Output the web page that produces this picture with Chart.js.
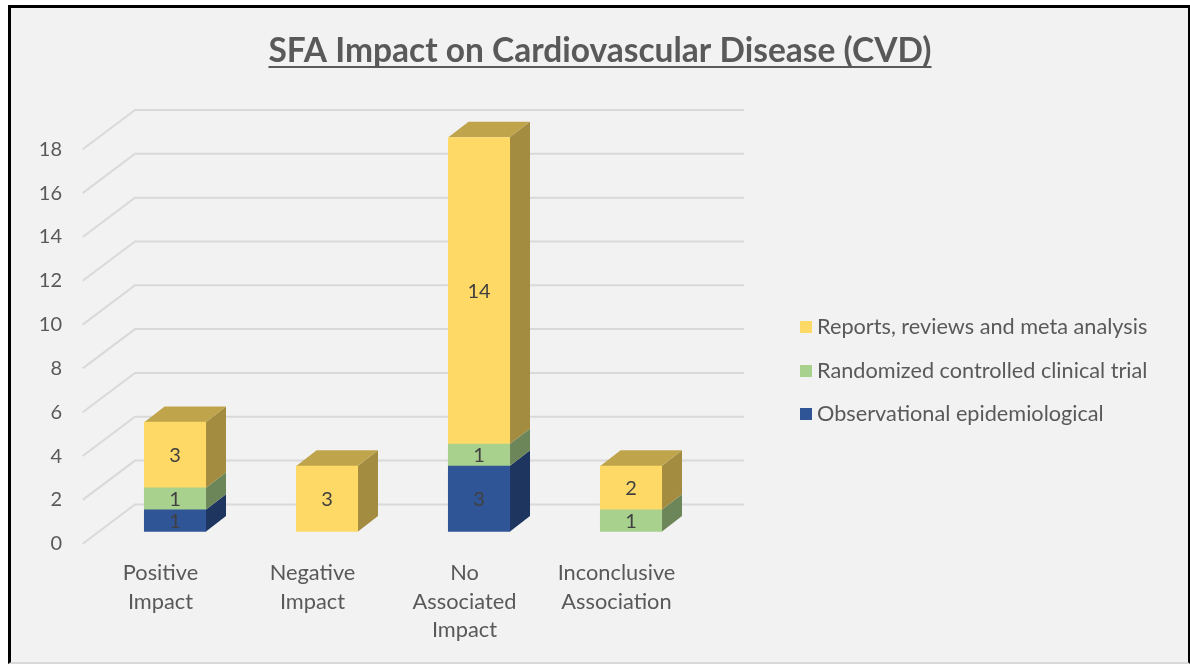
<!DOCTYPE html>
<html>
<head>
<meta charset="utf-8">
<title>SFA Impact on Cardiovascular Disease (CVD)</title>
<script src="https://cdn.jsdelivr.net/npm/chart.js@4/dist/chart.umd.min.js"></script>
<style>
  html, body { margin: 0; padding: 0; background: #fff; overflow: hidden; }
  #frame {
    position: absolute; left: 8px; top: 5px; right: 0; bottom: 0;
    background: #f2f2f2;
    border-left: 3px solid #000; border-top: 3px solid #000; border-right: 2px solid #000;
    border-bottom: 2px solid #d9d9d9;
  }
  #chart { position: absolute; left: 0; top: 0; }
</style>
</head>
<body>
<div id="frame"></div>
<canvas id="chart" width="1190" height="664"></canvas>
<script>
const categories = [["Positive", "Impact"], ["Negative", "Impact"], ["No", "Associated", "Impact"], ["Inconclusive", "Association"]];
const observational = [1, null, 3, null];
const randomized = [1, null, 1, 1];
const reports = [3, 3, 14, 2];
const yMax = 18;
const yStep = 2;

const fontFamily = "Lato, 'Noto Sans', sans-serif";
const textColor = "#595959";

// front, right side and top colours of the 3D columns
const shades = {
  blue: { front: "#2f5597", side: "#1e3560", top: "#24406f" },
  green: { front: "#a9d18e", side: "#6c8659", top: "#7f9e6a" },
  yellow: { front: "#ffd966", side: "#a38b40", top: "#c0a44c" },
};

const depth = { x: 20.3, y: 15.6 };
const wall = { frontX: 82.7, frontDy: 12, backX: 135, backDy: -27.3, right: 744 };
const legendWidth = 300;

const wallAndSides = {
  id: "wallAndSides",
  beforeDatasetsDraw(chart) {
    const { ctx, scales: { y } } = chart;
    ctx.save();
    ctx.strokeStyle = "#d9d9d9";
    ctx.lineWidth = 2;
    y.ticks.forEach((tick) => {
      const py = y.getPixelForValue(tick.value);
      ctx.beginPath();
      ctx.moveTo(wall.frontX, py + wall.frontDy);
      ctx.lineTo(wall.backX, py + wall.backDy);
      ctx.lineTo(wall.right, py + wall.backDy);
      ctx.stroke();
    });

    // sides are drawn from the bars the library has laid out
    chart.data.datasets.forEach((ds, di) => {
      chart.getDatasetMeta(di).data.forEach((bar, i) => {
        if (ds.data[i] == null) return;
        const { x, y: top, base, width } = bar.getProps(["x", "y", "base", "width"], true);
        const r = x + width / 2;
        const l = x - width / 2;
        ctx.fillStyle = ds.shade.side;
        ctx.beginPath();
        ctx.moveTo(r, top);
        ctx.lineTo(r + depth.x, top - depth.y);
        ctx.lineTo(r + depth.x, base - depth.y);
        ctx.lineTo(r, base);
        ctx.closePath();
        ctx.fill();
        const above = chart.data.datasets.slice(di + 1).some((d) => d.data[i] != null);
        if (!above) {
          ctx.fillStyle = ds.shade.top;
          ctx.beginPath();
          ctx.moveTo(l, top);
          ctx.lineTo(l + depth.x, top - depth.y);
          ctx.lineTo(r + depth.x, top - depth.y);
          ctx.lineTo(r, top);
          ctx.closePath();
          ctx.fill();
        }
      });
    });
    ctx.restore();
  },
};

const valueLabels = {
  id: "valueLabels",
  afterDatasetsDraw(chart) {
    const { ctx } = chart;
    ctx.save();
    ctx.font = "20px " + fontFamily;
    ctx.fillStyle = "#404040";
    ctx.textAlign = "center";
    ctx.textBaseline = "middle";
    chart.data.datasets.forEach((ds, di) => {
      chart.getDatasetMeta(di).data.forEach((bar, i) => {
        if (ds.data[i] == null) return;
        const { x, y, base } = bar.getProps(["x", "y", "base"], true);
        ctx.fillText(String(ds.data[i]), x, (y + base) / 2 + 1);
      });
    });
    ctx.restore();
  },
};

const titleUnderline = {
  id: "titleUnderline",
  afterDraw(chart) {
    const { ctx } = chart;
    const opts = chart.options.plugins.title;
    ctx.save();
    ctx.font = opts.font.weight + " " + opts.font.size + "px " + fontFamily;
    const w = ctx.measureText(opts.text).width;
    ctx.fillStyle = opts.color;
    ctx.fillRect(chart.width / 2 + 5 - w / 2, 66, w, 2);
    ctx.restore();
  },
};

// the legend sits apart from the plot and the title is centred on the frame,
// so both are moved after the layout
const placeBoxes = {
  id: "placeBoxes",
  afterLayout(chart) {
    const lg = chart.legend;
    const pad = lg.options.labels.padding;
    lg.left = 805.8 - pad;
    lg.right = chart.width;
    lg.width = lg.right - lg.left;
    lg.top = 326 + 1 - 10.8 - pad;
    lg.bottom = chart.height;
    lg.height = lg.bottom - lg.top;
    chart.titleBlock.left = 10;
    chart.titleBlock.right = chart.width;
  },
};

// 12px swatch as a point style, so the gap to the text can be as tight as the reference
function swatch(color) {
  const c = document.createElement("canvas");
  c.width = 12;
  c.height = 12;
  const g = c.getContext("2d");
  g.fillStyle = color;
  g.fillRect(0, 0, 12, 12);
  return c;
}

new Chart(document.getElementById("chart"), {
  type: "bar",
  data: {
    labels: categories,
    datasets: [
      { label: "Observational epidemiological", data: observational, backgroundColor: shades.blue.front, shade: shades.blue },
      { label: "Randomized controlled clinical trial", data: randomized, backgroundColor: shades.green.front, shade: shades.green },
      { label: "Reports, reviews and meta analysis", data: reports, backgroundColor: shades.yellow.front, shade: shades.yellow },
    ],
  },
  options: {
    responsive: false,
    animation: false,
    layout: { padding: { left: 0, right: 1190 - 707 - legendWidth, top: 0, bottom: 0 } },
    datasets: { bar: { barThickness: 61.4 } },
    scales: {
      x: {
        stacked: true,
        grid: { display: false, drawTicks: false },
        border: { display: false },
        ticks: {
          color: textColor,
          font: { family: fontFamily, size: 21.8, lineHeight: 1.31 },
          padding: 27,
          labelOffset: -14.5,
          maxRotation: 0,
          autoSkip: false,
        },
        afterFit(scale) { scale.height = 664 - 531.7; },
      },
      y: {
        stacked: true,
        min: 0,
        max: yMax,
        grid: { display: false, drawTicks: false },
        border: { display: false },
        ticks: {
          stepSize: yStep,
          color: textColor,
          font: { family: fontFamily, size: 20 },
          padding: 37,
          labelOffset: 12,
        },
        afterFit(scale) { scale.width = 99; },
      },
    },
    plugins: {
      title: {
        display: true,
        text: "SFA Impact on Cardiovascular Disease (CVD)",
        color: textColor,
        font: { family: fontFamily, size: 33.5, weight: "bold", lineHeight: 1.2 },
        padding: { top: 31.5, bottom: 137.3 - 31.5 - 40.2 },
      },
      legend: {
        position: "right",
        align: "start",
        reverse: true,
        maxWidth: legendWidth,
        labels: {
          color: textColor,
          font: { family: fontFamily, size: 21.7 },
          usePointStyle: true,
          pointStyleWidth: 0.4,
          boxHeight: 12,
          padding: 21.8,
          generateLabels(chart) {
            return Chart.defaults.plugins.legend.labels.generateLabels(chart).map((item) => ({
              ...item,
              pointStyle: swatch(item.fillStyle),
            }));
          },
        },
      },
      tooltip: { enabled: false },
    },
  },
  plugins: [wallAndSides, valueLabels, titleUnderline, placeBoxes],
});
</script>
</body>
</html>
